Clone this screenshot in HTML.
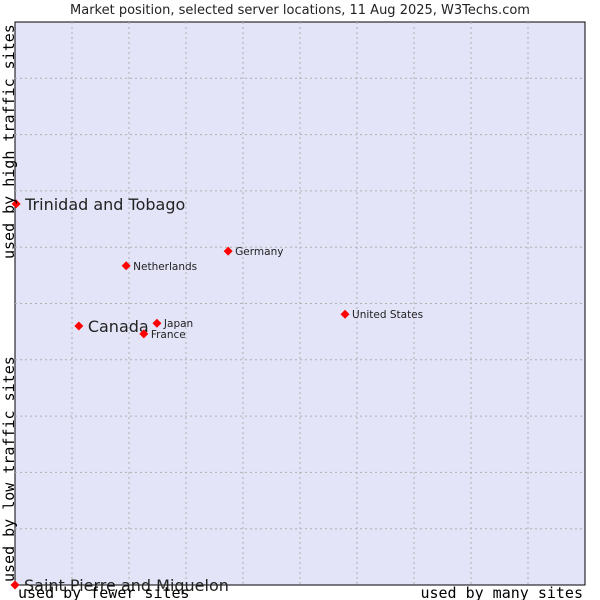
<!DOCTYPE html>
<html><head><meta charset="utf-8"><style>
body{margin:0;background:#fff;}
svg{display:block;font-family:"DejaVu Sans","Liberation Sans",sans-serif;}
.mono{font-family:"DejaVu Sans Mono","Liberation Mono",monospace;font-size:15px;fill:#000;}
</style></head><body>
<svg width="600" height="600" id="chart">
<text x="300" y="14" text-anchor="middle" font-size="13" fill="#222">Market position, selected server locations, 11 Aug 2025, W3Techs.com</text>
<rect x="15" y="22" width="570" height="563" fill="#e3e4f8" stroke="#000" stroke-width="1"/>
<g id="grid"></g>
<g id="marks"></g>
<text class="mono" transform="translate(14,259) rotate(-90)">used by high traffic sites</text>
<text class="mono" transform="translate(14,582) rotate(-90)">used by low traffic sites</text>
<text class="mono" x="18" y="598">used by fewer sites</text>
<text class="mono" x="583" y="598" text-anchor="end">used by many sites</text>
</svg>
<script>
const countries=["Trinidad and Tobago","Canada","Saint Pierre and Miquelon","Netherlands","Germany","United States","Japan","France"];
const xValues=[0.2,11.2,0,19.5,37.4,57.9,24.9,22.6];
const yValues=[67.7,46.0,0,56.7,59.3,48.1,46.5,44.6];
const bigLabel=[true,true,true,false,false,false,false,false];
const gridSteps=[1,2,3,4,5,6,7,8,9];
const L=15,R=585,T=22,B=585;
const sx=v=>L+v/100*(R-L), sy=v=>B-v/100*(B-T);
const NS="http://www.w3.org/2000/svg";
const grid=document.getElementById('grid'),marks=document.getElementById('marks');
gridSteps.forEach(i=>{
  const v=document.createElementNS(NS,'line');
  const x=sx(i*10);
  v.setAttribute('x1',x);v.setAttribute('x2',x);v.setAttribute('y1',T);v.setAttribute('y2',B);
  v.setAttribute('stroke','#b0b0b0');v.setAttribute('stroke-dasharray','2,3');
  
  
  grid.appendChild(v);
  const h=document.createElementNS(NS,'line');
  const y=sy(i*10);
  h.setAttribute('x1',L);h.setAttribute('x2',R);h.setAttribute('y1',y);h.setAttribute('y2',y);
  h.setAttribute('stroke','#b0b0b0');h.setAttribute('stroke-dasharray','2,3');
  
  
  grid.appendChild(h);
});
countries.forEach((c,i)=>{
  const x=sx(xValues[i]),y=sy(yValues[i]);
  const p=document.createElementNS(NS,'polygon');
  p.setAttribute('points',`${x},${y-4.5} ${x+4.5},${y} ${x},${y+4.5} ${x-4.5},${y}`);
  p.setAttribute('fill','#f00');
  
  
  marks.appendChild(p);
  const t=document.createElementNS(NS,'text');
  t.textContent=c;
  t.setAttribute('x',x+(bigLabel[i]?9:7));
  t.setAttribute('y',y+(bigLabel[i]?6:4));
  t.setAttribute('font-size',bigLabel[i]?16:10.5);
  t.setAttribute('fill','#222');
  
  
  marks.appendChild(t);
});
</script>
</body></html>
